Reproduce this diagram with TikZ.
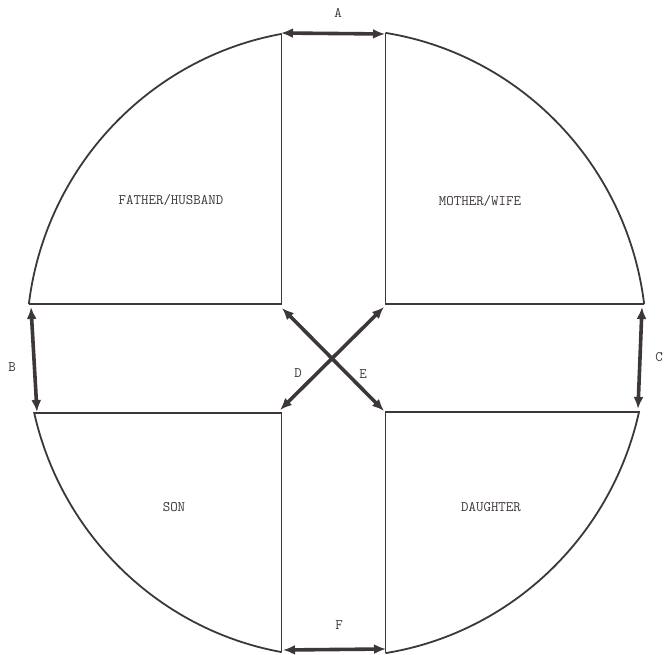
\documentclass[tikz,border=0pt]{standalone}
\usepackage{fontspec}
\usetikzlibrary{arrows.meta}
\definecolor{ink}{RGB}{62,55,55}
\begin{document}
\begin{tikzpicture}[x=1pt,y=-1pt,
  outline/.style={draw=ink,line width=1.8pt},
  link/.style={draw=ink,line width=3.6pt,{Latex[length=12pt,width=10pt]}-{Latex[length=12pt,width=10pt]}},
  lbl/.style={font=\ttfamily\fontsize{14.5}{16}\selectfont,text=ink,inner sep=0pt}]
\useasboundingbox (0,0) rectangle (665,655);
% quadrants: corner x/y, far x/y
\foreach \cx/\cy/\fx/\fy in {281.5/304/0/0, 385.5/304/665/0, 281.5/413/0/655, 385.5/412/665/655}{
  \begin{scope}
    \clip (336.5,343) ellipse [x radius=310, y radius=314];
    \draw[outline] (\fx,\cy) -- (\cx,\cy) -- (\cx,\fy);
  \end{scope}
  \begin{scope}
    \clip (\cx,\cy) rectangle (\fx,\fy);
    \draw[outline] (336.5,343) ellipse [x radius=310, y radius=314];
  \end{scope}
}
% quadrant labels
\node[lbl] (father) at (171,200) {FATHER/HUSBAND};
\node[lbl] (mother) at (480,201) {MOTHER/WIFE};
\node[lbl] (son) at (174,507) {SON};
\node[lbl] (daughter) at (491,507) {DAUGHTER};
% arrow end points
\coordinate (a1) at (281,33);
\coordinate (a2) at (385,34);
\coordinate (b1) at (31,307);
\coordinate (b2) at (37,412);
\coordinate (c1) at (642,307);
\coordinate (c2) at (638,409);
\coordinate (d1) at (384,307);
\coordinate (d2) at (280,410);
\coordinate (e1) at (282,308);
\coordinate (e2) at (384,411);
\coordinate (f1) at (283,650);
\coordinate (f2) at (386,649);
\draw[link] (a1) -- (a2);
\draw[link] (b1) -- (b2);
\draw[link] (c1) -- (c2);
\draw[link] (d1) -- (d2);
\draw[link] (e1) -- (e2);
\draw[link] (f1) -- (f2);
% arrow labels
\node[lbl] (la) at (338,13) {A};
\node[lbl] (lb) at (12,367) {B};
\node[lbl] (lc) at (659,357) {C};
\node[lbl] (ld) at (298,373) {D};
\node[lbl] (le) at (363,374) {E};
\node[lbl] (lf) at (339,625) {F};
\end{tikzpicture}
\end{document}
